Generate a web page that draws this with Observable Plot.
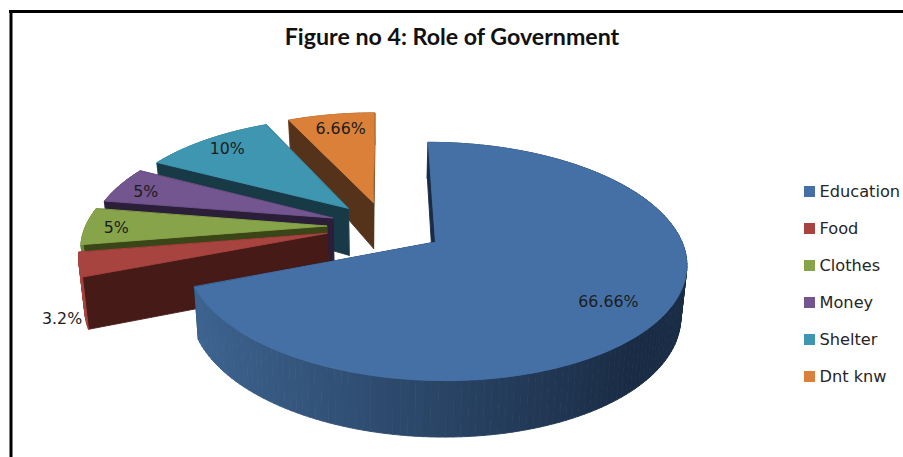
<!DOCTYPE html>
<html>
<head>
<meta charset="utf-8">
<script src="https://cdn.jsdelivr.net/npm/d3@7"></script>
<script src="https://cdn.jsdelivr.net/npm/@observablehq/plot@0.6"></script>
<style>
  html, body { margin: 0; padding: 0; background: #fff; }
  svg { display: block; }
</style>
</head>
<body>
<div id="chart"></div>
<script>
// Survey answers, in percent, clockwise from twelve o'clock.
const categories = ["Education", "Food", "Clothes", "Money", "Shelter", "Dnt knw"];
const shares = [66.66, 3.2, 5, 5, 10, 6.66];
const tickLabels = ["66.66%", "3.2%", "5%", "5%", "10%", "6.66%"];

const topColors = ["#4470a6", "#a8443f", "#87a44a", "#73558f", "#3f96b0", "#da8039"];
const cutColors = ["#1a2c45", "#451a17", "#3a4518", "#2a1e38", "#183a47", "#55331a"];
const wallLight = ["#3f6794", "#a8443f", "#6f873c", "#5f4777", "#347c92", "#b56a2f"];

// Where each data label sits on its slice: radius fraction and bearing in degrees.
const labelRadius = [0.79, 1.16, 0.87, 0.86, 0.85, 0.82];
const labelBearing = [127, 234.4, 268.7, 286.8, 317, 348.5];

// How far each slice is pulled out of the pie, as a fraction of the radius.
const explodeBy = [0.25, 0.245, 0.24, 0.23, 0.225, 0.225];

const width = 903, height = 457;

// Tilted pie projection: nearer points grow, the base sits lower and a little narrower.
const cx = 384, cy = 225.5, rx = 241, ry = 110.8, tilt = 0.16, thick = 50, baseInset = 0.02;
const startAngle = 0;

function project(u, v, z) {
  const s = 1 / (1 - tilt * v);
  const drop = thick * (s < 1 ? s ** 2.5 : s ** 0.6);
  return {
    px: cx + rx * u * s * (1 - baseInset * z),
    py: cy + ry * v * s + drop * z
  };
}
const rad = d => d * Math.PI / 180;

const total = d3.sum(shares);
let running = startAngle;
const slices = shares.map((value, i) => {
  const a0 = running;
  const a1 = running + value / total * 360;
  running = a1;
  const mid = rad((a0 + a1) / 2);
  return {i, a0, a1, ou: explodeBy[i] * Math.sin(mid), ov: -explodeBy[i] * Math.cos(mid)};
});
const rim = (sl, a, r = 1) => [sl.ou + r * Math.sin(rad(a)), sl.ov - r * Math.cos(rad(a))];

// Builds the faces of one slice, far faces first so nearer ones paint over them.
function facesOf(sl) {
  const faces = [];
  const apex = [sl.ou, sl.ov];
  const cut = a => {
    const p = rim(sl, a);
    return {
      depth: (apex[1] + p[1]) / 2,
      color: cutColors[sl.i],
      pts: [project(...apex, 0), project(...p, 0), project(...p, 1), project(...apex, 1)]
    };
  };
  faces.push(cut(sl.a0), cut(sl.a1));
  const n = Math.max(2, Math.ceil((sl.a1 - sl.a0) / 1.5));
  const wallShade = d3.interpolateRgb(wallLight[sl.i], cutColors[sl.i]);
  for (let k = 0; k < n; k++) {
    const a = sl.a0 + (sl.a1 - sl.a0) * k / n;
    const b = sl.a0 + (sl.a1 - sl.a0) * (k + 1) / n;
    const p = rim(sl, a), q = rim(sl, b);
    const t = Math.min(1, (Math.sin(rad((a + b) / 2)) + 1) / 2 * 1.2);
    faces.push({
      depth: (p[1] + q[1]) / 2,
      color: wallShade(t),
      pts: [project(...p, 0), project(...q, 0), project(...q, 1), project(...p, 1)]
    });
  }
  faces.sort((f, g) => f.depth - g.depth);
  const top = [project(...apex, 0)];
  for (let k = 0; k <= 60; k++) {
    top.push(project(...rim(sl, sl.a0 + (sl.a1 - sl.a0) * k / 60), 0));
  }
  faces.push({color: topColors[sl.i], pts: top});
  return faces;
}

// Back slices first: Dnt knw through Education.
const rows = [];
let faceId = 0;
for (const sl of slices.slice().reverse()) {
  for (const f of facesOf(sl)) {
    faceId++;
    for (const p of f.pts) rows.push({face: faceId, color: f.color, px: p.px, py: p.py});
  }
}

const labelRows = slices.map(sl => {
  const [u, v] = rim(sl, labelBearing[sl.i], labelRadius[sl.i]);
  return {...project(u, v, 0), text: tickLabels[sl.i]};
});

const legendRows = categories.map((name, i) => ({
  name, color: topColors[i], y: 191.5 + i * 37
}));

const bodyFont = "DejaVu Sans";
const chart = Plot.plot({
  width, height,
  margin: 0,
  style: {background: "#fff"},
  x: {domain: [0, width], range: [0, width], axis: null},
  y: {domain: [0, height], range: [0, height], axis: null},
  color: {type: "identity"},
  marks: [
    // Chart frame: only the top and left edges are in view.
    Plot.ruleY([11], {x1: 9, x2: width, stroke: "#000", strokeWidth: 3}),
    Plot.ruleX([10.5], {y1: 10, y2: height, stroke: "#000", strokeWidth: 3}),
    Plot.line(rows, {
      x: "px", y: "py", z: "face",
      fill: "color", stroke: "color", strokeWidth: 0.9,
      curve: "linear-closed"
    }),
    Plot.text(labelRows, {
      x: "px", y: "py", text: "text",
      fontFamily: bodyFont, fontSize: 15.8, fill: "#1c1c1c"
    }),
    Plot.text(["Figure no 4: Role of Government"], {
      x: 451.5, y: 37,
      fontFamily: "Lato", fontWeight: 700, fontSize: 23.2, fill: "#111"
    }),
    Plot.rect(legendRows, {
      x1: () => 804, x2: () => 815,
      y1: d => d.y - 5.5, y2: d => d.y + 5.5,
      fill: "color"
    }),
    Plot.text(legendRows, {
      x: () => 819, y: "y", text: "name", textAnchor: "start",
      fontFamily: bodyFont, fontSize: 16.2, fill: "#262626"
    })
  ]
});
document.getElementById("chart").append(chart);
</script>
</body>
</html>
